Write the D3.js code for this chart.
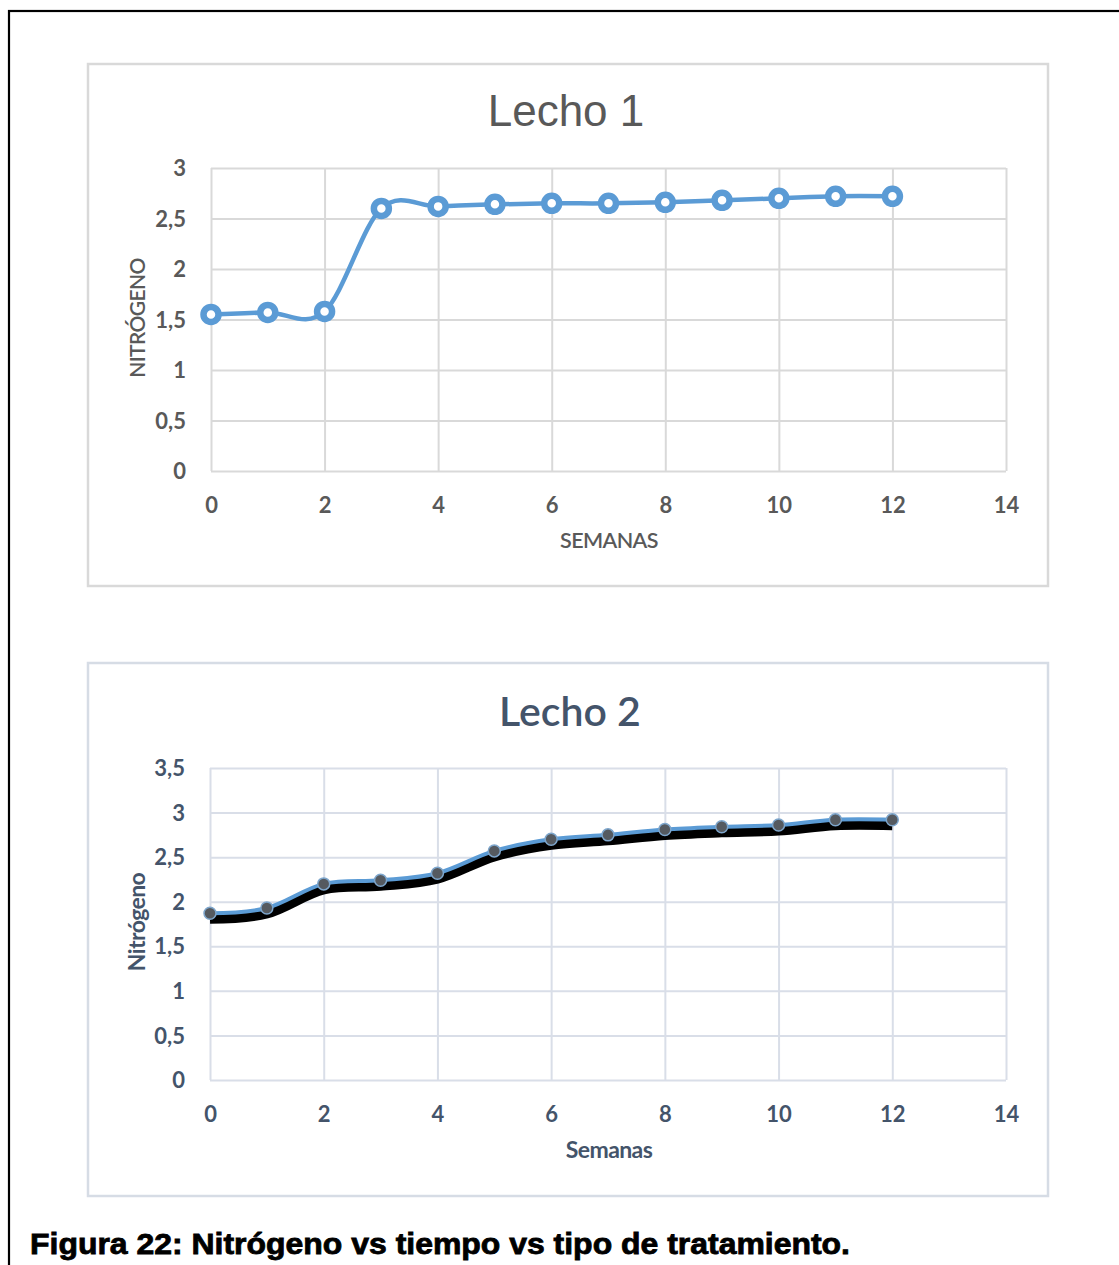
<!DOCTYPE html>
<html>
<head>
<meta charset="utf-8">
<script src="https://cdn.jsdelivr.net/npm/d3@7"></script>
<style>
  html, body { margin: 0; padding: 0; background: #fff; }
  svg { display: block; }
</style>
</head>
<body>
<svg id="fig" width="1119" height="1265"></svg>
<script>
// Weekly nitrogen readings for the two treatment beds
const weeks = [0, 1, 2, 3, 4, 5, 6, 7, 8, 9, 10, 11, 12];
const lecho1 = [1.55, 1.57, 1.58, 2.60, 2.62, 2.64, 2.65, 2.65, 2.66, 2.68, 2.70, 2.72, 2.72];
const lecho2 = [1.87, 1.93, 2.20, 2.24, 2.32, 2.57, 2.70, 2.75, 2.81, 2.84, 2.86, 2.92, 2.92];
const xTicks = [0, 2, 4, 6, 8, 10, 12, 14];
const yTicks1 = [0, 0.5, 1, 1.5, 2, 2.5, 3];
const yTicks2 = [0, 0.5, 1, 1.5, 2, 2.5, 3, 3.5];

const svg = d3.select("#fig");
const fmt = v => String(v).replace(".", ",");

// page frame
svg.append("rect").attr("x", 9).attr("y", 11).attr("width", 1200).attr("height", 1300)
  .attr("fill", "none").attr("stroke", "#000").attr("stroke-width", 2.2);

function drawChart(cfg) {
  const g = svg.append("g");
  g.append("rect").attr("x", cfg.box[0]).attr("y", cfg.box[1])
    .attr("width", cfg.box[2]).attr("height", cfg.box[3])
    .attr("fill", "#fff").attr("stroke", cfg.boxStroke).attr("stroke-width", 2.5);

  const x = d3.scaleLinear().domain([0, 14]).range([cfg.plot.left, cfg.plot.right]);
  const y = d3.scaleLinear().domain([0, cfg.yMax]).range([cfg.plot.bottom, cfg.plot.top]);

  // gridlines
  g.append("g").attr("transform", `translate(0,${cfg.plot.bottom})`)
    .call(d3.axisBottom(x).tickValues(xTicks).tickSize(-(cfg.plot.bottom - cfg.plot.top)).tickFormat(""))
    .call(a => a.select(".domain").remove())
    .call(a => a.selectAll("line").attr("stroke", cfg.grid).attr("stroke-width", 2));
  g.append("g").attr("transform", `translate(${cfg.plot.left},0)`)
    .call(d3.axisLeft(y).tickValues(cfg.yTicks).tickSize(-(cfg.plot.right - cfg.plot.left)).tickFormat(""))
    .call(a => a.select(".domain").remove())
    .call(a => a.selectAll("line").attr("stroke", cfg.grid).attr("stroke-width", 2));

  // tick labels
  g.append("g").attr("transform", `translate(0,${cfg.plot.bottom + 31})`)
    .call(d3.axisBottom(x).tickValues(xTicks).tickSize(0).tickFormat(fmt))
    .call(a => a.select(".domain").remove())
    .call(a => a.selectAll("text").attr("fill", cfg.text).attr("font-family", cfg.font)
      .attr("font-size", 22).attr("font-weight", cfg.tickWeight).attr("dy", "0.35em"));
  g.append("g").attr("transform", `translate(${cfg.plot.left - 22},0)`)
    .call(d3.axisLeft(y).tickValues(cfg.yTicks).tickSize(0).tickFormat(fmt))
    .call(a => a.select(".domain").remove())
    .call(a => a.selectAll("text").attr("fill", cfg.text).attr("font-family", cfg.font)
      .attr("font-size", 22).attr("font-weight", cfg.tickWeight).attr("dx", 0).attr("dy", "0.35em"));

  // titles
  g.append("text").attr("x", cfg.titlePos[0]).attr("y", cfg.titlePos[1])
    .attr("text-anchor", "middle").attr("dominant-baseline", "central")
    .attr("font-family", cfg.titleFont).attr("font-size", cfg.titleSize)
    .attr("font-weight", cfg.titleWeight)
    .attr("fill", cfg.text).text(cfg.title);
  g.append("text").attr("x", cfg.xLabelPos[0]).attr("y", cfg.xLabelPos[1])
    .attr("text-anchor", "middle").attr("dominant-baseline", "central")
    .attr("font-family", cfg.font).attr("font-size", cfg.xLabelSize).attr("font-weight", cfg.labelWeight)
    .attr("fill", cfg.text).attr("letter-spacing", cfg.labelSpacing).text(cfg.xLabel);
  g.append("text").attr("transform", `translate(${cfg.yLabelPos[0]},${cfg.yLabelPos[1]}) rotate(-90)`)
    .attr("text-anchor", "middle").attr("dominant-baseline", "central")
    .attr("font-family", cfg.font).attr("font-size", cfg.yLabelSize).attr("font-weight", cfg.labelWeight)
    .attr("fill", cfg.text).attr("letter-spacing", cfg.labelSpacing).text(cfg.yLabel);

  const pts = weeks.map((w, i) => [x(w), y(cfg.values[i])]);
  const line = d3.line().curve(d3.curveCardinal.tension(0));
  return { g, pts, line };
}

// Lecho 1
const c1 = drawChart({
  box: [88, 64, 960, 522], boxStroke: "#d9d9d9",
  plot: { left: 211, right: 1006, top: 168, bottom: 471 },
  yMax: 3, yTicks: yTicks1, values: lecho1,
  grid: "#d9d9d9", text: "#595959", font: "Lato, 'Open Sans', sans-serif",
  tickWeight: "bold", labelWeight: "600", labelSpacing: "-0.6px",
  title: "Lecho 1", titleFont: "'Liberation Sans', Arial, sans-serif", titleSize: 44, titleWeight: "normal",
  titlePos: [566, 110], xLabel: "SEMANAS", xLabelPos: [609, 540], xLabelSize: 21.5,
  yLabel: "NITRÓGENO", yLabelPos: [136, 318], yLabelSize: 21
});
c1.g.append("path").attr("d", c1.line(c1.pts)).attr("fill", "none")
  .attr("stroke", "#5b9bd5").attr("stroke-width", 4.5);
c1.g.selectAll("circle.m").data(c1.pts).join("circle")
  .attr("cx", d => d[0]).attr("cy", d => d[1]).attr("r", 7.5)
  .attr("fill", "#fff").attr("stroke", "#5b9bd5").attr("stroke-width", 6.5);

// Lecho 2
const c2 = drawChart({
  box: [88, 663, 960, 533], boxStroke: "#d6dce5",
  plot: { left: 210, right: 1006, top: 768, bottom: 1080 },
  yMax: 3.5, yTicks: yTicks2, values: lecho2,
  grid: "#d9dee8", text: "#44546a", font: "Lato, 'Open Sans', sans-serif",
  tickWeight: "bold", labelWeight: "bold", labelSpacing: "-0.6px",
  title: "Lecho 2", titleFont: "Lato, 'Open Sans', sans-serif", titleSize: 41, titleWeight: "600",
  titlePos: [570, 710], xLabel: "Semanas", xLabelPos: [609, 1149], xLabelSize: 23,
  yLabel: "Nitrógeno", yLabelPos: [136, 922], yLabelSize: 23
});
c2.g.append("path").attr("d", c2.line(c2.pts)).attr("fill", "none")
  .attr("transform", "translate(0,5)")
  .attr("stroke", "#000").attr("stroke-width", 11);
c2.g.append("path").attr("d", c2.line(c2.pts)).attr("fill", "none")
  .attr("stroke", "#5b9bd5").attr("stroke-width", 4);
c2.g.selectAll("circle.m").data(c2.pts).join("circle")
  .attr("cx", d => d[0]).attr("cy", d => d[1]).attr("r", 6)
  .attr("fill", "#555a60").attr("stroke", "#7ea6cc").attr("stroke-width", 1.5);

// caption
svg.append("text").attr("x", 30).attr("y", 1254)
  .attr("font-family", "'Liberation Sans', Arial, sans-serif").attr("font-weight", "bold")
  .attr("font-size", 29).attr("fill", "#000").attr("stroke", "#000").attr("stroke-width", 0.8)
  .attr("textLength", 820).attr("lengthAdjust", "spacingAndGlyphs")
  .text("Figura 22: Nitrógeno vs tiempo vs tipo de tratamiento.");
</script>
</body>
</html>
